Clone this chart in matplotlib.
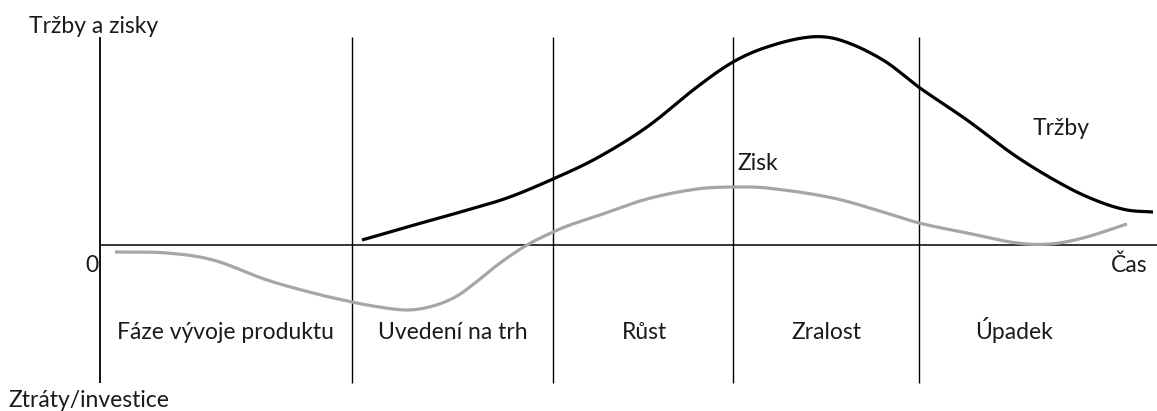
import numpy as np
import matplotlib
matplotlib.use("Agg")
import matplotlib.pyplot as plt

# ---- data (time on x, value on y; 0 = break-even) ----
sales_t = [262, 307, 357, 407, 453, 497, 547, 597, 633, 667, 710, 740, 783, 820, 867, 917, 967, 1000, 1027, 1053]
sales_v = [5, 18, 32, 47, 66, 87, 118, 158, 183, 198, 208, 205, 185, 157, 125, 88, 58, 43, 35, 33]

profit_t = [15, 67, 113, 167, 217, 252, 273, 307, 333, 357, 380, 400, 427, 453, 470, 497, 547, 597,
            633, 667, 733, 783, 819, 867, 917, 950, 983, 1027]
profit_v = [-7, -8, -15, -35, -49, -57, -61, -65, -61, -51, -34, -18, 0, 13, 20, 29, 46, 56,
            58, 57, 47, 33, 22, 12, 2, 1, 7, 21]

phase_bounds = [0, 252, 453, 633, 819]
phase_labels = ["Fáze vývoje produktu", "Uvedení na trh", "Růst", "Zralost", "Úpadek"]
phase_centers = [125, 353, 544, 726, 914]

y_top_label = "Tržby a zisky"
y_bottom_label = "Ztráty/investice"
x_label = "Čas"
zero_label = "0"
sales_label = "Tržby"
profit_label = "Zisk"


def smooth(t, v, n=30):
    """Cubic Hermite rendering through the read points (tangents from neighbours)."""
    t = np.asarray(t, float)
    v = np.asarray(v, float)
    m = np.empty_like(v)
    m[1:-1] = (v[2:] - v[:-2]) / (t[2:] - t[:-2])
    m[0] = (v[1] - v[0]) / (t[1] - t[0])
    m[-1] = (v[-1] - v[-2]) / (t[-1] - t[-2])
    xs, ys = [], []
    for i in range(len(t) - 1):
        h = t[i + 1] - t[i]
        s = np.linspace(0, 1, n, endpoint=False)
        h00 = 2 * s**3 - 3 * s**2 + 1
        h10 = s**3 - 2 * s**2 + s
        h01 = -2 * s**3 + 3 * s**2
        h11 = s**3 - s**2
        xs.append(t[i] + s * h)
        ys.append(h00 * v[i] + h10 * h * m[i] + h01 * v[i + 1] + h11 * h * m[i + 1])
    xs.append([t[-1]])
    ys.append([v[-1]])
    return np.concatenate(xs), np.concatenate(ys)


plt.rcParams['font.family'] = ['Lato', 'DejaVu Sans']

fig = plt.figure(figsize=(11.57, 4.11), dpi=100)
ax = fig.add_axes([0, 0, 1, 1])
ax.set_xlim(-100, 1057)
ax.set_ylim(-166, 245)
ax.axis('off')

# axes
ax.plot([0, 0], [-138, 208], color='black', lw=1.3, solid_capstyle='butt')
ax.axhline(0, xmin=100 / 1157, xmax=1, color='black', lw=1.1)
for b in phase_bounds[1:]:
    ax.plot([b, b], [-138, 208], color='black', lw=1.0, solid_capstyle='butt')

# curves
st, sv = smooth(sales_t, sales_v)
ax.plot(st, sv, color='black', lw=2.3, solid_capstyle='butt')
pt, pv = smooth(profit_t, profit_v)
ax.plot(pt, pv, color='#a6a6a6', lw=2.3, solid_capstyle='butt')

fs = 16.5
tc = '#1a1a1a'
ax.text(-71, 212, y_top_label, fontsize=fs, va='baseline', ha='left', color=tc)
ax.text(-92, -162, y_bottom_label, fontsize=fs, va='baseline', ha='left', color=tc)
ax.text(-15, -27, zero_label, fontsize=fs, va='baseline', ha='left', color=tc)
ax.text(1047, -27, x_label, fontsize=fs, va='baseline', ha='right', color=tc)
ax.text(637, 75, profit_label, fontsize=fs, va='baseline', ha='left', color=tc)
ax.text(933, 110, sales_label, fontsize=fs, va='baseline', ha='left', color=tc)

for c, lab in zip(phase_centers, phase_labels):
    ax.text(c, -94, lab, fontsize=fs, va='baseline', ha='center', color=tc)

fig.savefig("out.png", dpi=100)
